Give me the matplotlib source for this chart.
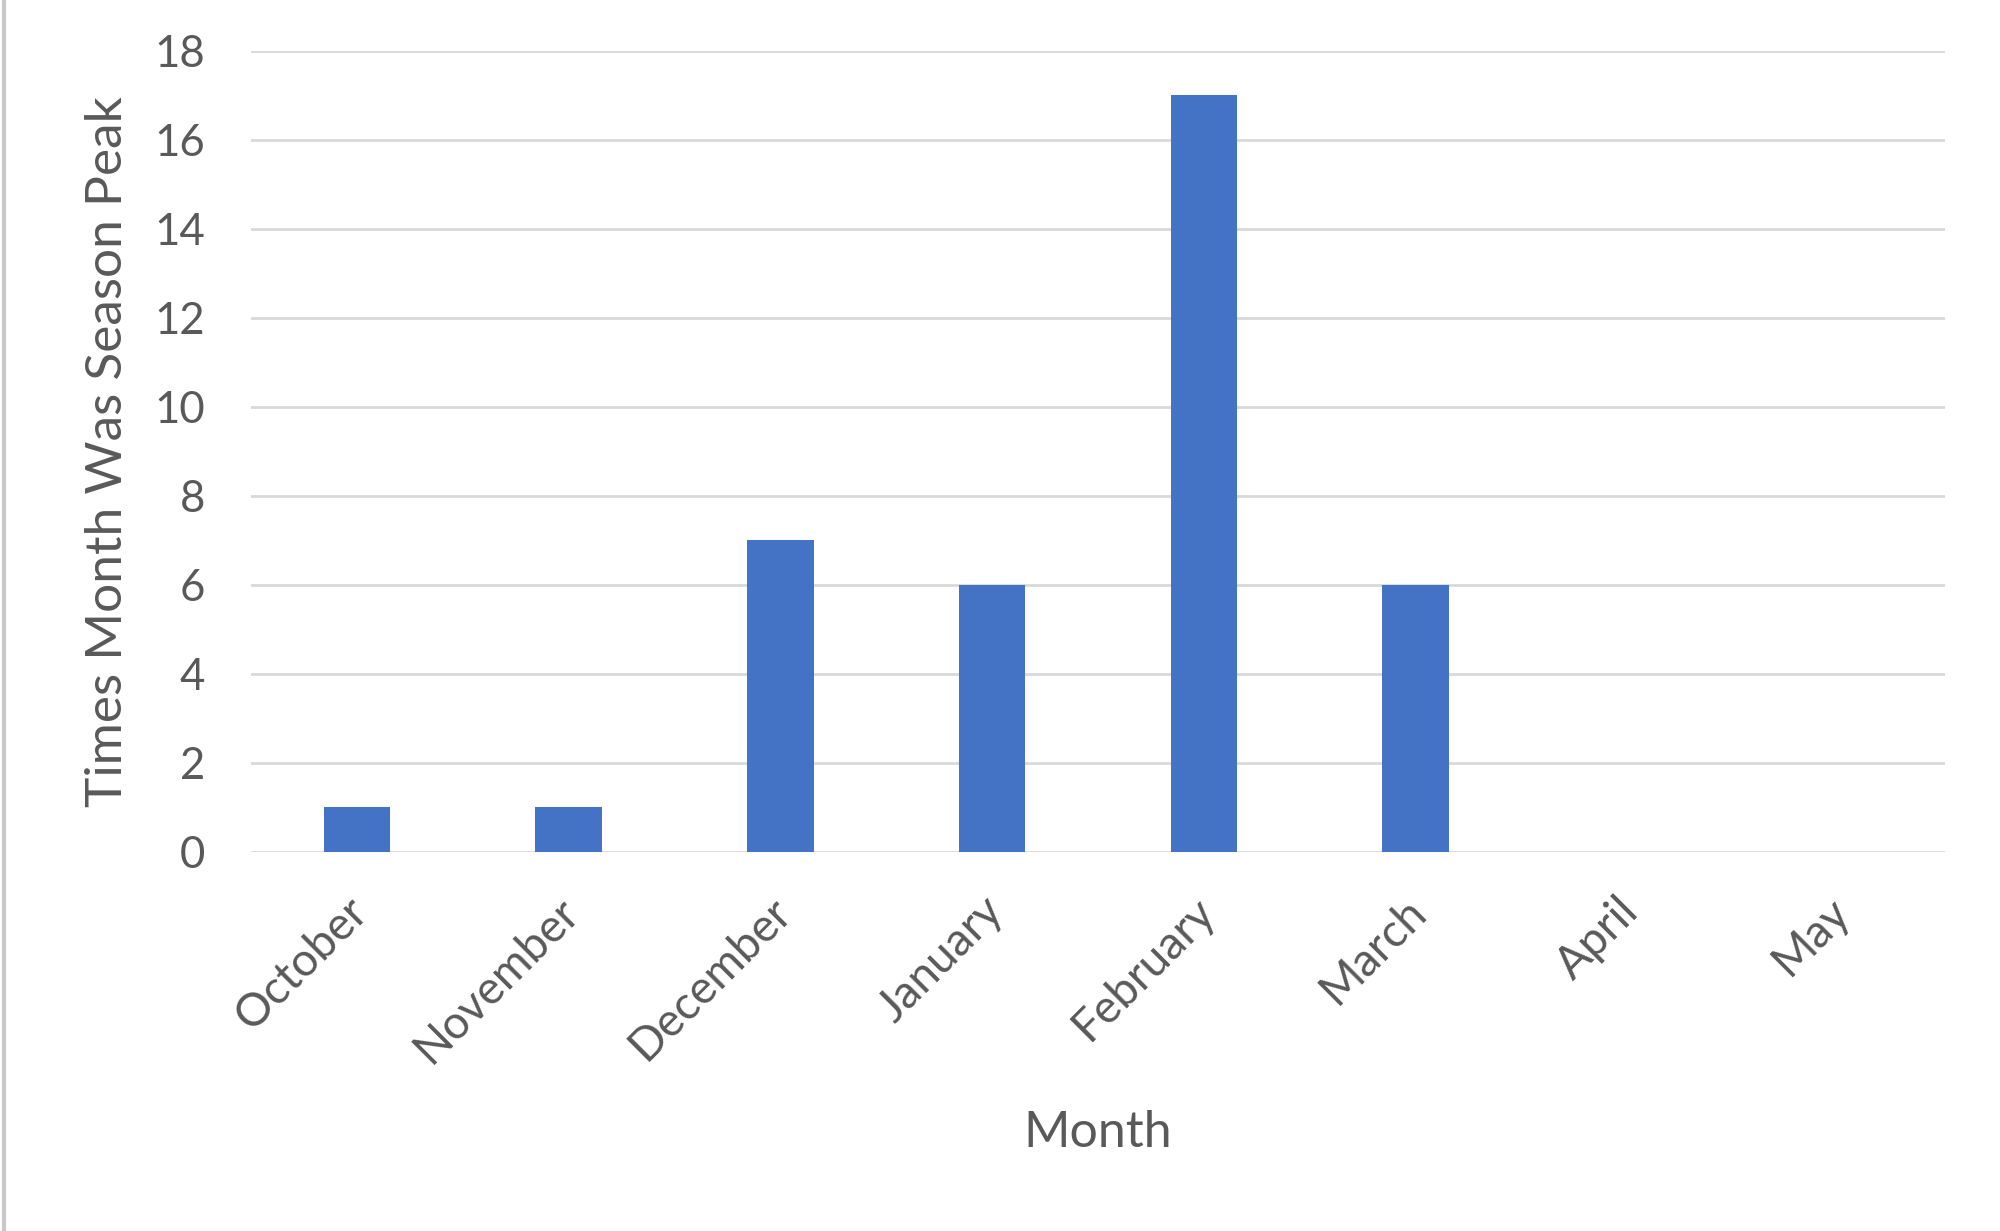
import matplotlib
matplotlib.use('Agg')
import matplotlib.pyplot as plt
from matplotlib.lines import Line2D
from matplotlib.transforms import ScaledTranslation

# data
months = ['October', 'November', 'December', 'January',
          'February', 'March', 'April', 'May']
peak_counts = [1, 1, 7, 6, 17, 6, 0, 0]
y_ticks = [0, 2, 4, 6, 8, 10, 12, 14, 16, 18]

plt.rcParams['font.family'] = ['Lato', 'DejaVu Sans']
text_color = '#595959'

fig = plt.figure(figsize=(20, 12.31), dpi=100)
ax = fig.add_axes([0.1255, 0.308, 0.847, 0.6506])

x = list(range(len(months)))
ax.bar(x, peak_counts, width=0.313, color='#4472C4', zorder=3)

ax.set_xlim(-0.5, len(months) - 0.5)
ax.set_ylim(0, 18)
ax.set_yticks(y_ticks)
ax.set_yticklabels([str(t) for t in y_ticks], fontsize=31.5, color=text_color)
ax.yaxis.grid(True, color='#d9d9d9', linewidth=2, zorder=0)

ax.set_xticks(x)
ax.set_xticklabels(months, fontsize=33, color=text_color, rotation=45,
                   ha='right', va='center', rotation_mode='anchor')
ax.tick_params(axis='x', length=0, pad=38)
ax.tick_params(axis='y', length=0, pad=33)
# nudge the slanted labels a bit to the right, like Excel places them
shift = ScaledTranslation(4 / 100, 0, fig.dpi_scale_trans)
for lab in ax.get_xticklabels():
    lab.set_transform(lab.get_transform() + shift)

for s in ax.spines.values():
    s.set_visible(False)

ax.set_xlabel('Month', fontsize=36, color=text_color)
ax.set_ylabel('Times Month Was Season Peak', fontsize=37, color=text_color)
ax.xaxis.set_label_coords(0.5, -0.351)
ax.xaxis.label.set_va('center')
ax.yaxis.set_label_coords(-0.0844, 0.5)
ax.yaxis.label.set_va('center')

# faint frame edge on the left of the screenshot
fig.add_artist(Line2D([0.002, 0.002], [0, 1], transform=fig.transFigure,
                      color='#c8c8c8', linewidth=3))

fig.savefig('out.png', dpi=100, facecolor='white')
